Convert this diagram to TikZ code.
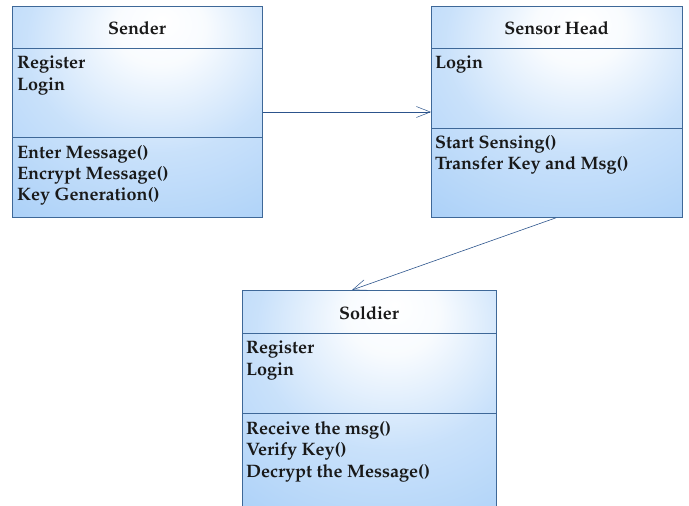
\documentclass[tikz,border=0pt]{standalone}
\usepackage[T1]{fontenc}
\usepackage{mathpazo}
\usetikzlibrary{arrows.meta}
\definecolor{boxblue}{RGB}{172,209,248}
\definecolor{boxedge}{RGB}{62,104,152}
\definecolor{linkblue}{RGB}{44,84,140}
\pgfdeclareradialshading{boxglow}{\pgfpoint{5bp}{22bp}}{%
  color(0bp)=(white); color(9bp)=(white!92!boxblue); color(26bp)=(boxblue!65!white); color(46bp)=(boxblue); color(100bp)=(boxblue)}
\tikzset{
  classbox/.style={draw=boxedge, line width=0.8pt, shading=boxglow, anchor=north west, inner sep=0pt},
  divider/.style={draw=boxedge, line width=0.8pt},
  title/.style={font=\fontsize{18}{20}\selectfont\bfseries, text=black!90},
  member/.style={font=\fontsize{18}{20}\selectfont\bfseries, text=black!90, anchor=west, inner sep=0pt},
  link/.style={draw=linkblue, line width=0.6pt, -{Straight Barb[length=14pt,width=11pt,line width=0.5pt]}}
}
\begin{document}
\begin{tikzpicture}[x=1pt,y=-1pt]
\useasboundingbox (0,0) rectangle (689,506);
\clip (0,0) rectangle (689,506);

% Sender class
\node[classbox, minimum width=250pt, minimum height=211pt] (sender) at (12,6) {};
\draw[divider] (12,48) -- (262,48);
\draw[divider] (12,137) -- (262,137);
\node[title] (sendertitle) at (137,28) {Sender};
\node[member] (s1) at (17,65) {Register};
\node[member] (s2) at (17,87) {Login};
\node[member] (s3) at (17,154) {Enter Message()};
\node[member] (s4) at (17,175) {Encrypt Message()};
\node[member] (s5) at (17,196) {Key Generation()};

% Sensor Head class
\node[classbox, minimum width=251pt, minimum height=211pt] (head) at (431,6) {};
\draw[divider] (431,48) -- (682,48);
\draw[divider] (431,128) -- (682,128);
\node[title] (headtitle) at (556.5,28) {Sensor Head};
\node[member] (h1) at (435,65) {Login};
\node[member] (h2) at (435,144) {Start Sensing()};
\node[member] (h3) at (435,165) {Transfer Key and Msg()};

% Soldier class (runs off the lower edge)
\node[classbox, minimum width=254pt, minimum height=230pt] (soldier) at (242,290) {};
\draw[divider] (242,333) -- (496,333);
\draw[divider] (242,413) -- (496,413);
\node[title] (soldiertitle) at (369,313) {Soldier};
\node[member] (d1) at (246,350) {Register};
\node[member] (d2) at (246,372) {Login};
\node[member] (d3) at (246,430) {Receive the msg()};
\node[member] (d4) at (246,451) {Verify Key()};
\node[member] (d5) at (246,473) {Decrypt the Message()};

% Associations
\draw[link] (sender.east |- 0,112) -- (head.west |- 0,112);
\draw[link] (head.south -| 556,0) -- (soldier.north -| 352,0);
\end{tikzpicture}
\end{document}
